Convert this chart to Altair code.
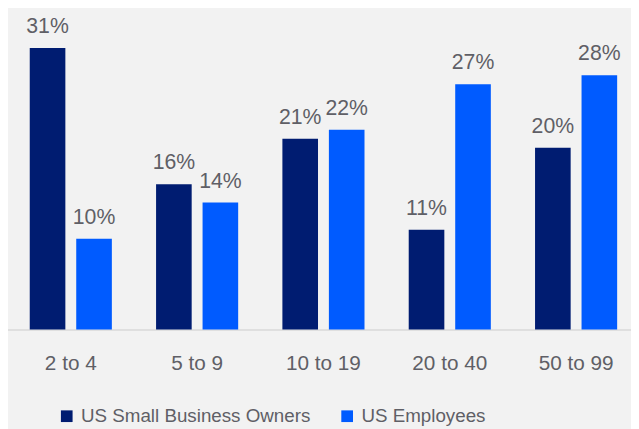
import altair as alt
import pandas as pd

categories = ["2 to 4", "5 to 9", "10 to 19", "20 to 40", "50 to 99"]
owners = [31, 16, 21, 11, 20]
employees = [10, 14, 22, 27, 28]
series = ["US Small Business Owners", "US Employees"]
colors = ["#001C71", "#005BFF"]

rows = []
for c, o, e in zip(categories, owners, employees):
    rows.append({"cat": c, "series": series[0], "value": o})
    rows.append({"cat": c, "series": series[1], "value": e})
df = pd.DataFrame(rows)

FONT = "Liberation Sans"
GREY = "#5F5F66"

x = alt.X("cat:N", sort=categories, title=None,
          scale=alt.Scale(range=[-0.5, 639.5], paddingInner=0.35, paddingOuter=0.176),
          axis=alt.Axis(labelAngle=0, ticks=False, labelPadding=23, labelFontSize=21,
                        labelColor=GREY, labelFont=FONT, domainColor="#D9D9D9",
                        domainWidth=1.5))
xo = alt.XOffset("series:N", sort=series,
                 scale=alt.Scale(paddingInner=0.234, paddingOuter=0))
y = alt.Y("value:Q", axis=None, scale=alt.Scale(domain=[0, 35.1], nice=False))

bars = alt.Chart(df).mark_bar().encode(
    x=x, xOffset=xo, y=y,
    color=alt.Color("series:N", sort=series,
                    scale=alt.Scale(domain=series, range=colors),
                    legend=alt.Legend(title=None, orient="none", legendX=50, legendY=401,
                                      direction="horizontal", symbolType="square",
                                      symbolSize=140, symbolStrokeWidth=0,
                                      labelFontSize=19, labelColor=GREY, labelFont=FONT,
                                      labelLimit=0, columnPadding=27, labelOffset=5,
                                      padding=0)),
)

labels = alt.Chart(df).transform_calculate(
    label="datum.value + '%'"
).mark_text(fontSize=21.5, font=FONT, color=GREY, baseline="alphabetic", dy=-15).encode(
    x=x, xOffset=xo, y=y, text="label:N"
)

chart = alt.layer(bars, labels).properties(
    width=631, height=323,
    autosize=alt.AutoSizeParams(type="none"),
    padding={"left": 0, "top": 0, "right": 0, "bottom": 98},
    background="#F2F2F2",
).configure_view(stroke=None)

chart.save("out.html", embed_options={"renderer": "svg", "actions": False})
